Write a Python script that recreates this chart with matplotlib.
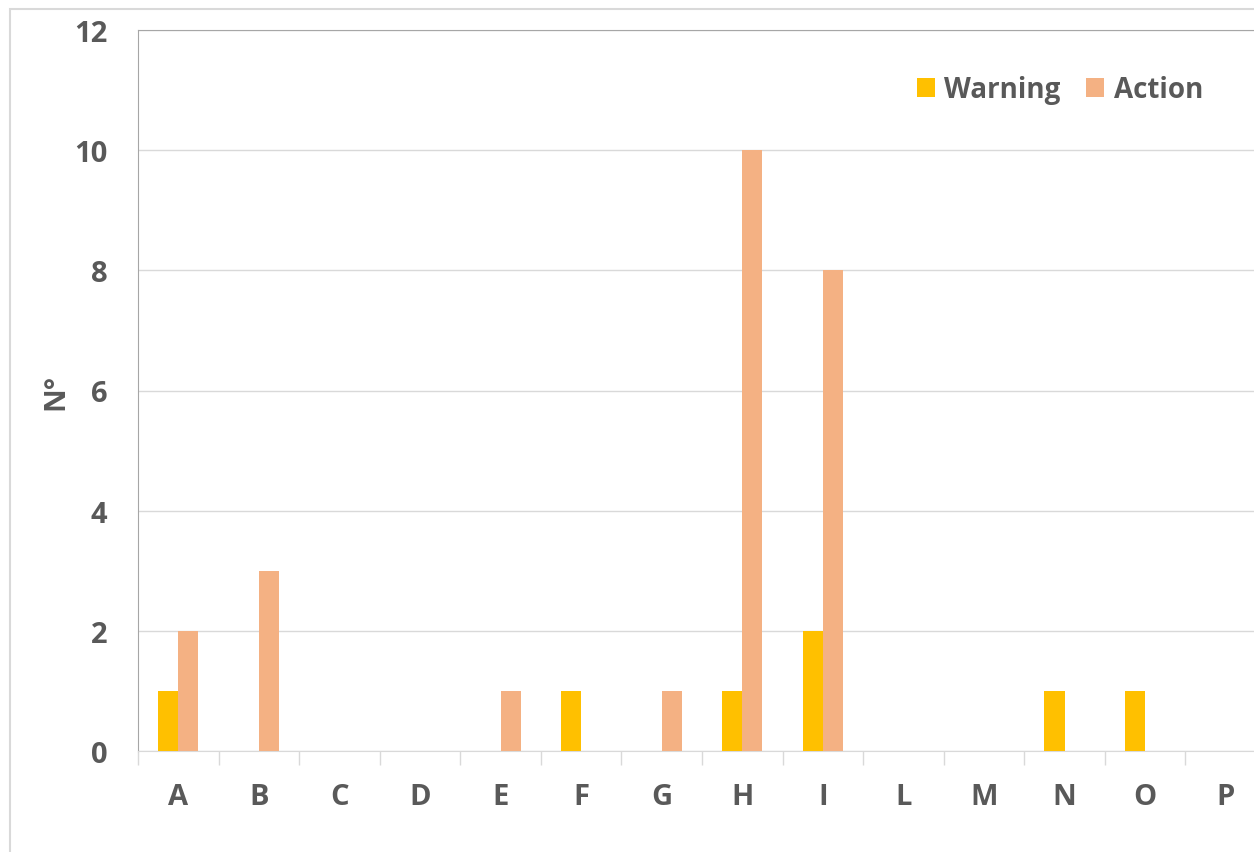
import matplotlib
matplotlib.use('Agg')
import matplotlib.pyplot as plt
import numpy as np
from matplotlib.patches import Rectangle

# counts per site
categories = ['A', 'B', 'C', 'D', 'E', 'F', 'G', 'H', 'I', 'L', 'M', 'N', 'O', 'P']
warning = [1, 0, 0, 0, 0, 1, 0, 1, 2, 0, 0, 1, 1, 0]
action = [2, 3, 0, 0, 1, 0, 1, 10, 8, 0, 0, 0, 0, 0]
yticks = [0, 2, 4, 6, 8, 10, 12]

plt.rcParams['font.family'] = ['Open Sans', 'DejaVu Sans']
plt.rcParams['font.weight'] = 'bold'
txt = '#595959'
fs = 21

fig = plt.figure(figsize=(12.54, 8.53), dpi=100)
# outer chart frame
fig.patches.append(Rectangle((10 / 1254, -0.1), 1.2, 1 - 10 / 853 + 0.1,
                             transform=fig.transFigure, fill=False,
                             edgecolor='#D9D9D9', linewidth=1.5))

ax = fig.add_axes([138 / 1254, 1 - 752 / 853, 1128 / 1254, 721 / 853])

x = np.arange(len(categories))
w = 0.25
ax.bar(x - w / 2, warning, w, color='#FFC000', label='Warning', zorder=3)
ax.bar(x + w / 2, action, w, color='#F4B183', label='Action', zorder=3)

ax.set_xlim(-0.5, len(categories) - 0.5)
ax.set_ylim(0, 12)
ax.set_yticks(yticks)
ax.set_xticks(x)
ax.set_xticklabels(categories, fontweight='bold')
ax.set_yticklabels([str(v) for v in yticks], fontweight='bold')
ax.set_xticks(np.arange(len(categories) + 1) - 0.5, minor=True)

ax.yaxis.grid(True, color='#D9D9D9', linewidth=1, zorder=0)
ax.tick_params(axis='y', length=0, pad=22, labelsize=fs, labelcolor=txt)
ax.tick_params(axis='x', which='major', length=0, pad=22, labelsize=fs, labelcolor=txt)
ax.tick_params(axis='x', which='minor', length=10, width=1, color='#D9D9D9')

ax.spines['left'].set_color('#A6A6A6')
ax.spines['top'].set_color('#A6A6A6')
ax.spines['bottom'].set_color('#D9D9D9')
ax.spines['right'].set_visible(False)

ax.set_ylabel('N°', fontsize=fs, color=txt, fontweight='bold')
ax.yaxis.set_label_coords(-68 / 1128, 0.5)

leg = ax.legend(loc='upper right', bbox_to_anchor=(1090 / 1128, 0.972), ncol=2,
                frameon=False, handlelength=0.65, handleheight=0.65,
                handletextpad=0.35, columnspacing=0.9,
                prop={'size': 20, 'weight': 'bold'})
for t in leg.get_texts():
    t.set_color(txt)

fig.savefig('out.png', dpi=100)
